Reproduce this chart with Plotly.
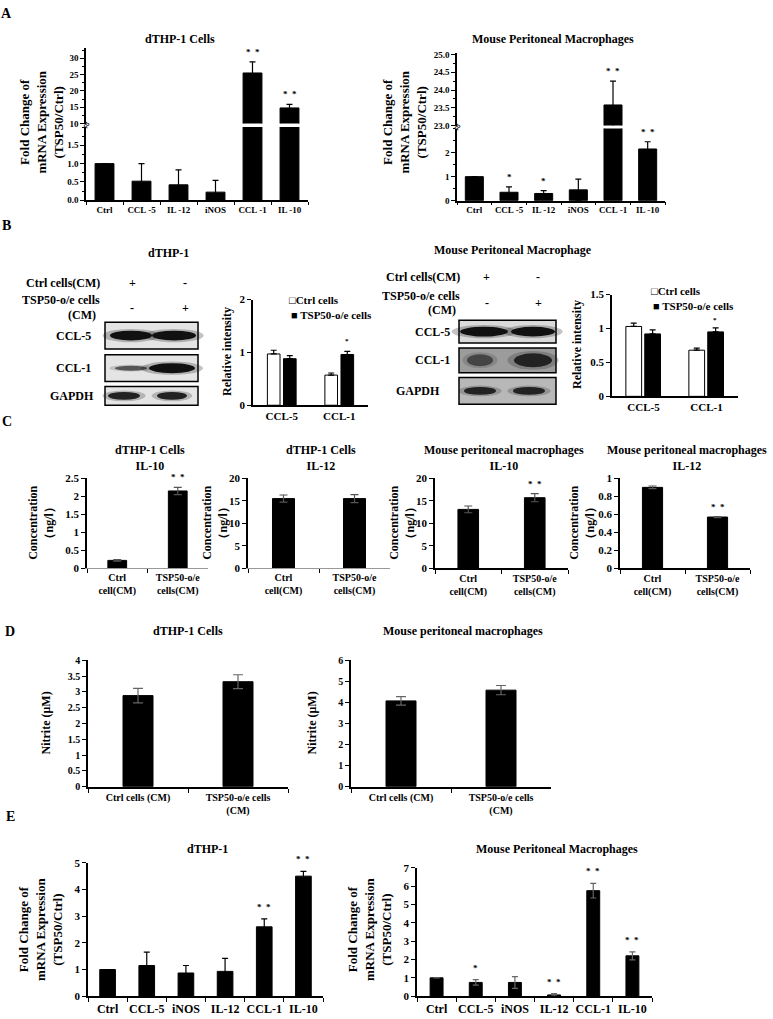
import plotly.graph_objects as go

W, H = 773, 1019
SERIF = "Liberation Serif, Times New Roman, serif"

# ---------------- data ----------------
# A: qPCR fold change (broken axes)
a_genes = ["Ctrl", "CCL -5", "IL -12", "iNOS", "CCL -1", "IL -10"]
a_thp1 = [1.0, 0.52, 0.42, 0.22, 25.5, 14.8]
a_thp1_err = [0, 0.48, 0.41, 0.32, 3.4, 1.1]
a_thp1_sig = ["", "", "", "", "*  *", "*  *"]
a_thp1_low_ticks = [0, 0.5, 1.0, 1.5]
a_thp1_high_ticks = [10, 15, 20, 25, 30]
a_mpm = [1.0, 0.35, 0.30, 0.45, 23.58, 2.15]
a_mpm_err = [0, 0.22, 0.12, 0.45, 0.67, 0.30]
a_mpm_sig = ["", "*", "*", "", "*  *", "*  *"]
a_mpm_low_ticks = [0, 1, 2]
a_mpm_high_ticks = [23.0, 23.5, 24.0, 24.5, 25.0]

# B: western blot densitometry
b_targets = ["CCL-5", "CCL-1"]
b_series = ["Ctrl cells", "TSP50-o/e cells"]
b_thp1_ctrl = [0.97, 0.57]
b_thp1_ctrl_err = [0.07, 0.04]
b_thp1_tsp = [0.88, 0.96]
b_thp1_tsp_err = [0.06, 0.06]
b_thp1_sig = ["", "*"]
b_mpm_ctrl = [1.03, 0.68]
b_mpm_ctrl_err = [0.05, 0.03]
b_mpm_tsp = [0.92, 0.95]
b_mpm_tsp_err = [0.06, 0.06]
b_mpm_sig = ["", "*"]

# C: ELISA
c_groups = ["Ctrl<br>cell(CM)", "TSP50-o/e<br>cells(CM)"]
c_thp1_il10 = [0.22, 2.15]
c_thp1_il10_err = [0.02, 0.1]
c_thp1_il10_sig = ["", "*  *"]
c_thp1_il12 = [15.5, 15.5]
c_thp1_il12_err = [0.8, 0.9]
c_mpm_il10 = [13.1, 15.7]
c_mpm_il10_err = [0.75, 0.9]
c_mpm_il10_sig = ["", "*  *"]
c_mpm_il12 = [0.90, 0.57]
c_mpm_il12_err = [0.015, 0.006]
c_mpm_il12_sig = ["", "*  *"]

# D: nitrite
d_groups = ["Ctrl cells (CM)", "TSP50-o/e cells<br>(CM)"]
d_thp1 = [2.88, 3.32]
d_thp1_err = [0.23, 0.22]
d_mpm = [4.07, 4.58]
d_mpm_err = [0.2, 0.22]

# E: qPCR fold change
e_genes = ["Ctrl", "CCL-5", "iNOS", "IL-12", "CCL-1", "IL-10"]
e_thp1 = [1.0, 1.15, 0.87, 0.93, 2.6, 4.5]
e_thp1_err = [0, 0.5, 0.28, 0.49, 0.3, 0.18]
e_thp1_sig = ["", "", "", "", "*  *", "*  *"]
e_mpm = [1.0, 0.75, 0.75, 0.07, 5.75, 2.2]
e_mpm_err = [0, 0.15, 0.32, 0.07, 0.4, 0.22]
e_mpm_sig = ["", "*", "", "*  *", "*  *", "*  *"]


def px(x):
    return x / W


def py(y):
    return 1 - y / H


def tfont(size=10):
    return dict(family=SERIF, size=size, color="black", weight="bold")


def xaxis_def(x0, x1, anchor, size=10, **kw):
    d = dict(domain=[px(x0), px(x1)], anchor=anchor, type="category", showline=True,
             linecolor="black", linewidth=1.5, ticks="outside", tickson="boundaries",
             ticklen=4, tickcolor="black", tickfont=tfont(size), tickangle=0,
             showgrid=False, zeroline=False, fixedrange=True)
    d.update(kw)
    return d


def yaxis_def(ytop, ybot, anchor, rng, dtick, size=10, **kw):
    d = dict(domain=[py(ybot), py(ytop)], anchor=anchor, range=rng, dtick=dtick,
             showline=True, linecolor="black", linewidth=1.5, ticks="outside", ticklen=4,
             tickcolor="black", tickfont=tfont(size), showgrid=False, zeroline=False,
             fixedrange=True)
    d.update(kw)
    return d


fig = go.Figure()
annotations = []
shapes = []
layout = {}


def label(text, x, y, size=12, angle=0, xanchor="center", yanchor="middle"):
    annotations.append(dict(text=text, x=px(x), y=py(y), xref="paper", yref="paper",
                            showarrow=False, textangle=angle, xanchor=xanchor,
                            yanchor=yanchor, font=tfont(size)))


def bars(xk, yk, cats, vals, err, width, color="black", err_color="black",
         cap=3, up_only=False, name=None, offset=None):
    ey = dict(type="data", array=err, color=err_color, thickness=1.2, width=cap)
    if up_only:
        ey.update(symmetric=False, arrayminus=[0] * len(err))
    tr = go.Bar(x=cats, y=vals, xaxis=xk, yaxis=yk, width=width, name=name,
                marker=dict(color=color, line=dict(color="black", width=1)),
                error_y=ey, showlegend=False)
    if offset is not None:
        tr.offset = offset
    fig.add_trace(tr)


def stars(xk, yk, cats, vals, err, sig, size=10, shift=1, yk_high=None, split=None):
    for c, v, e, s in zip(cats, vals, err, sig):
        if not s:
            continue
        ref = yk_high if (split is not None and v + e > split) else yk
        annotations.append(dict(x=c, y=v + e, xref=xk, yref=ref, text=s, showarrow=False,
                                yanchor="bottom", yshift=shift, font=tfont(size)))


# ---------------- A ----------------
label("A", 7, 8, size=14)
label("dTHP-1 Cells", 180, 33, size=12)
label("Mouse Peritoneal Macrophages", 553, 33, size=12)
label("Fold Change of<br>mRNA Expression<br>(TSP50/Ctrl)", 42, 118, size=13, angle=-90)
label("Fold Change of<br>mRNA Expression<br>(TSP50/Ctrl)", 405, 118, size=13, angle=-90)

layout["xaxis"] = xaxis_def(86, 308, "y", size=9, ticklen=3)
layout["yaxis"] = yaxis_def(122.5, 196.5, "x", [0, 2.0], None, size=9, tickvals=a_thp1_low_ticks,
                            tickformat=".1f", minor=dict(dtick=0.25, ticks="outside", ticklen=2,
                                                         tickcolor="black"))
layout["yaxis2"] = yaxis_def(43, 119, "x", [10, 33], None, size=9, tickvals=a_thp1_high_ticks,
                             minor=dict(dtick=2.5, ticks="outside", ticklen=2, tickcolor="black"))
bars("x", "y", a_genes, a_thp1, a_thp1_err, 0.51)
bars("x", "y2", a_genes, a_thp1, a_thp1_err, 0.51)
stars("x", "y", a_genes, a_thp1, a_thp1_err, a_thp1_sig, size=9, shift=3,
      yk_high="y2", split=2.0)
label("≈", 86, 120, size=11, angle=-60)

layout["xaxis3"] = xaxis_def(457, 665, "y3", size=9, ticklen=3)
layout["yaxis3"] = yaxis_def(124, 197, "x3", [0, 3.0], None, size=9, tickvals=a_mpm_low_ticks,
                             minor=dict(dtick=0.5, ticks="outside", ticklen=2, tickcolor="black"))
layout["yaxis4"] = yaxis_def(48, 121, "x3", [23, 25.03], None, size=9, tickvals=a_mpm_high_ticks,
                             tickformat=".1f",
                             minor=dict(dtick=0.25, ticks="outside", ticklen=2, tickcolor="black"))
bars("x3", "y3", a_genes, a_mpm, a_mpm_err, 0.52)
bars("x3", "y4", a_genes, a_mpm, a_mpm_err, 0.52)
stars("x3", "y3", a_genes, a_mpm, a_mpm_err, a_mpm_sig, size=9, shift=3,
      yk_high="y4", split=3.0)
label("≈", 457, 122, size=11, angle=-60)

# ---------------- B ----------------
label("B", 7, 222, size=14)
label("dTHP-1", 168, 250, size=12)
label("Mouse Peritoneal Macrophage", 513, 247, size=12)


def blot(x0, x1, labels_x, ctrl_x, tsp_x, rows, header_y):
    hy1, hy2, hy3 = header_y
    label("Ctrl cells(CM)", labels_x, hy1, size=12, xanchor="right")
    label("TSP50-o/e cells", labels_x, hy2, size=12, xanchor="right")
    label("(CM)", labels_x - 4, hy3, size=12, xanchor="right")
    label("+", ctrl_x, hy1, size=12)
    label("-", tsp_x, hy1, size=12)
    label("-", ctrl_x, (hy2 + hy3) / 2, size=12)
    label("+", tsp_x, (hy2 + hy3) / 2, size=12)
    for name, y0, y1, bg, name_x, bands in rows:
        shapes.append(dict(type="rect", xref="paper", yref="paper", x0=px(x0), x1=px(x1),
                           y0=py(y1), y1=py(y0), fillcolor=bg,
                           line=dict(color="black", width=1.5), layer="below"))
        label(name, name_x, (y0 + y1) / 2, size=12)
        yc = (y0 + y1) / 2
        for bx, bw, bh, col in bands:
            for grow, op in ((1.35, 0.25), (1.0, 1.0)):
                shapes.append(dict(type="circle", xref="paper", yref="paper",
                                   x0=px(bx - bw * grow / 2), x1=px(bx + bw * grow / 2),
                                   y0=py(yc + bh * grow / 2), y1=py(yc - bh * grow / 2),
                                   fillcolor=col, opacity=op, line=dict(width=0)))


blot(105, 198, 102, 132, 185, [
    ("CCL-5", 320, 347, "#e4e4e4", 73, [(131, 42, 10, "#111"), (174, 44, 10, "#111")]),
    ("CCL-1", 353, 380, "#e4e4e4", 73, [(131, 32, 5, "#555"), (172, 46, 10, "#111")]),
    ("GAPDH", 385, 404, "#e4e4e4", 72, [(124, 32, 8, "#222"), (172, 30, 8, "#222")]),
], (280, 298, 313))

blot(459, 556, 462, 487, 538, [
    ("CCL-5", 318, 341, "#dadada", 432, [(484, 48, 10, "#111"), (533, 44, 10, "#111")]),
    ("CCL-1", 346, 371, "#9c9c9c", 432, [(480, 26, 12, "#444"), (533, 38, 14, "#222")]),
    ("GAPDH", 376, 403, "#b8b8b8", 418, [(480, 32, 8, "#222"), (529, 32, 8, "#222")]),
], (274, 293, 308))

layout["xaxis5"] = xaxis_def(253, 368, "y5", size=11, ticks="")
layout["yaxis5"] = yaxis_def(297, 404, "x5", [0, 2], 1, size=11)
bars("x5", "y5", b_targets, b_thp1_ctrl, b_thp1_ctrl_err, 0.22, color="white", up_only=True,
     name=b_series[0], offset=-0.25)
bars("x5", "y5", b_targets, b_thp1_tsp, b_thp1_tsp_err, 0.22, up_only=True,
     name=b_series[1], offset=0.03)
label("Relative intensity", 227, 350, size=12, angle=-90)
label("□" + b_series[0], 287, 298, size=11, xanchor="left")
label("■ " + b_series[1], 289, 313, size=11, xanchor="left")
for c, v, e, s in zip(b_targets, b_thp1_tsp, b_thp1_tsp_err, b_thp1_sig):
    if s:
        annotations.append(dict(x=c, y=v + e, xref="x5", yref="y5", text=s, showarrow=False,
                                xshift=8, yanchor="bottom", yshift=4, font=tfont(7)))

layout["xaxis6"] = xaxis_def(612, 738, "y6", size=11, ticks="")
layout["yaxis6"] = yaxis_def(292, 395, "x6", [0, 1.5], 0.5, size=11)
bars("x6", "y6", b_targets, b_mpm_ctrl, b_mpm_ctrl_err, 0.25, color="white", up_only=True,
     name=b_series[0], offset=-0.28)
bars("x6", "y6", b_targets, b_mpm_tsp, b_mpm_tsp_err, 0.25, up_only=True,
     name=b_series[1], offset=0.02)
label("Relative intensity", 577, 343, size=12, angle=-90)
label("□" + b_series[0], 649, 288, size=11, xanchor="left")
label("■ " + b_series[1], 651, 304, size=11, xanchor="left")
for c, v, e, s in zip(b_targets, b_mpm_tsp, b_mpm_tsp_err, b_mpm_sig):
    if s:
        annotations.append(dict(x=c, y=v + e, xref="x6", yref="y6", text=s, showarrow=False,
                                xshift=8, yanchor="bottom", yshift=2, font=tfont(7)))

# ---------------- C ----------------
label("C", 7, 420, size=14)
c_panels = [
    (7, 87, 208, "dTHP-1 Cells<br>IL-10", c_thp1_il10, c_thp1_il10_err, c_thp1_il10_sig,
     [0, 2.5], 0.5, "#999999", 1.0, 41),
    (8, 248, 390, "dTHP-1 Cells<br>IL-12", c_thp1_il12, c_thp1_il12_err, None,
     [0, 20], 5, "#999999", 1.0, 215),
    (9, 435, 568, "Mouse peritoneal macrophages<br>IL-10", c_mpm_il10, c_mpm_il10_err,
     c_mpm_il10_sig, [0, 20], 5, "black", 2.0, 402),
    (10, 620, 750, "Mouse peritoneal macrophages<br>IL-12", c_mpm_il12, c_mpm_il12_err,
     c_mpm_il12_sig, [0, 1], 0.2, "black", 2.0, 582),
]
for k, x0, x1, title, vals, err, sig, rng, dt, xcol, xw, ytx in c_panels:
    xk, yk = f"x{k}", f"y{k}"
    layout[f"xaxis{k}"] = xaxis_def(x0, x1, yk, size=10, linecolor=xcol, linewidth=xw)
    layout[f"yaxis{k}"] = yaxis_def(478, 569, xk, rng, dt, size=11)
    bars(xk, yk, c_groups, vals, err, 0.31, err_color="#555555", cap=4)
    if sig:
        stars(xk, yk, c_groups, vals, err, sig, size=9, shift=3)
    label(title, (x0 + x1) / 2 + 2, 457, size=12)
    label("Concentration<br>（ng/l）", ytx, 523, size=12, angle=-90)

# ---------------- D ----------------
label("D", 10, 633, size=14)
label("dTHP-1 Cells", 188, 632, size=12)
label("Mouse peritoneal macrophages", 463, 632, size=12)
layout["xaxis11"] = xaxis_def(88, 288, "y11", size=10, linewidth=2)
layout["yaxis11"] = yaxis_def(662, 790, "x11", [0, 4], 0.5, size=10)
bars("x11", "y11", d_groups, d_thp1, d_thp1_err, 0.3, err_color="#666666", cap=5)
label("Nitrite (μM)", 46, 726, size=12, angle=-90)
layout["xaxis12"] = xaxis_def(351, 551, "y12", size=10, linewidth=2)
layout["yaxis12"] = yaxis_def(662, 790, "x12", [0, 6], 1, size=10)
bars("x12", "y12", d_groups, d_mpm, d_mpm_err, 0.3, err_color="#666666", cap=5)
label("Nitrite (μM)", 312, 726, size=12, angle=-90)

# ---------------- E ----------------
label("E", 10, 820, size=14)
label("dTHP-1", 207, 853, size=12)
label("Mouse Peritoneal Macrophages", 557, 853, size=12)
label("Fold Change of<br>mRNA Expression<br>(TSP50/Ctrl)", 41, 935, size=13, angle=-90)
label("Fold Change of<br>mRNA Expression<br>(TSP50/Ctrl)", 370, 935, size=13, angle=-90)
layout["xaxis13"] = xaxis_def(88, 323, "y13", size=12, linewidth=2)
layout["yaxis13"] = yaxis_def(867, 1002, "x13", [0, 5], 1, size=11)
bars("x13", "y13", e_genes, e_thp1, e_thp1_err, 0.4, cap=3)
stars("x13", "y13", e_genes, e_thp1, e_thp1_err, e_thp1_sig, size=9, shift=5)
layout["xaxis14"] = xaxis_def(417, 652, "y14", size=12, linewidth=2)
layout["yaxis14"] = yaxis_def(872, 1002, "x14", [0, 7], 1, size=11)
bars("x14", "y14", e_genes, e_mpm, e_mpm_err, 0.33, err_color="#666666", cap=3)
stars("x14", "y14", e_genes, e_mpm, e_mpm_err, e_mpm_sig, size=9, shift=5)

fig.update_layout(
    width=W, height=H, margin=dict(l=0, r=0, t=0, b=0),
    paper_bgcolor="white", plot_bgcolor="white",
    barmode="overlay", showlegend=False,
    annotations=annotations, shapes=shapes,
    font=dict(family=SERIF, color="black"),
    **layout,
)

fig.write_html("out.html", config={"displayModeBar": False},
               post_script="document.body.style.margin='0';")
